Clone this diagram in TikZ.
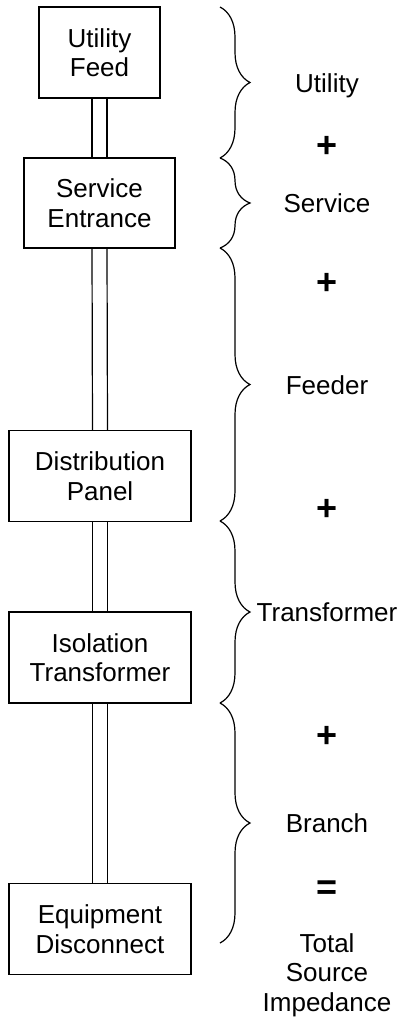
\documentclass[tikz,border=0pt]{standalone}
\usepackage{fontspec}
\setmainfont{Liberation Sans}
\usepackage{tikz}
\usetikzlibrary{decorations.pathreplacing,positioning}
\tikzset{
  unitbox/.style={draw,line width=0.6pt,align=center,minimum height=45.5pt,inner sep=0pt},
  sumlabel/.style={text height=9pt,text depth=0pt,inner sep=0pt},
  opsign/.style={font=\fontsize{18}{18}\selectfont\bfseries,text height=12pt,text depth=0pt,inner sep=0pt},
  wire/.style={line width=0.6pt}
}
\newcommand{\sourcebrace}[2]{%
  \draw[line width=0.6pt,decorate,decoration={brace,amplitude=15pt}] (#1)--(#2);}

\begin{document}
\begin{tikzpicture}[x=0.5pt,y=-0.5pt,font=\fontsize{13}{14.75}\selectfont]
  \useasboundingbox (0,0) rectangle (403,1019);
  % equipment chain
  \node[unitbox,minimum width=60.5pt] (feed) at (99.5,52.5) {Utility\\Feed};
  \node[unitbox,minimum width=75.5pt,minimum height=45pt] (entrance) at (99.5,203) {Service\\Entrance};
  \node[unitbox,minimum width=91pt] (panel) at (100,476) {Distribution\\Panel};
  \node[unitbox,minimum width=91pt] (isolation) at (100,657.5) {Isolation\\Transformer};
  \node[unitbox,minimum width=91pt] (disconnect) at (100,929) {Equipment\\Disconnect};
  \foreach \a/\b in {feed/entrance,entrance/panel,panel/isolation,isolation/disconnect}{
    \draw[wire] ([xshift=-3.75pt]\a.south) -- ([xshift=-3.75pt]\b.north);
    \draw[wire] ([xshift=3.75pt]\a.south) -- ([xshift=3.75pt]\b.north);
  }
  % braces
  \coordinate (b0) at (220,7);
  \coordinate (b1) at (220,158);
  \coordinate (b2) at (220,248);
  \coordinate (b3) at (220,521);
  \coordinate (b4) at (220,703);
  \coordinate (b5) at (220,943);
  \sourcebrace{b0}{b1}
  \sourcebrace{b1}{b2}
  \sourcebrace{b2}{b3}
  \sourcebrace{b3}{b4}
  \sourcebrace{b4}{b5}
  % impedance sum
  \node[sumlabel] (zutil) at (327,83) {Utility};
  \node[opsign] (plus1) at (327,145) {+};
  \node[sumlabel] (zserv) at (327,203) {Service};
  \node[opsign] (plus2) at (327,282) {+};
  \node[sumlabel] (zfeed) at (327,385) {Feeder};
  \node[opsign] (plus3) at (327,508) {+};
  \node[sumlabel] (ztrans) at (327,612) {Transformer};
  \node[opsign] (plus4) at (327,735) {+};
  \node[sumlabel] (zbranch) at (327,823) {Branch};
  \node[opsign] (equals) at (327,887) {=};
  \node[align=center,inner sep=0pt] (ztotal) at (327,975) {Total\\Source\\Impedance};
\end{tikzpicture}
\end{document}
